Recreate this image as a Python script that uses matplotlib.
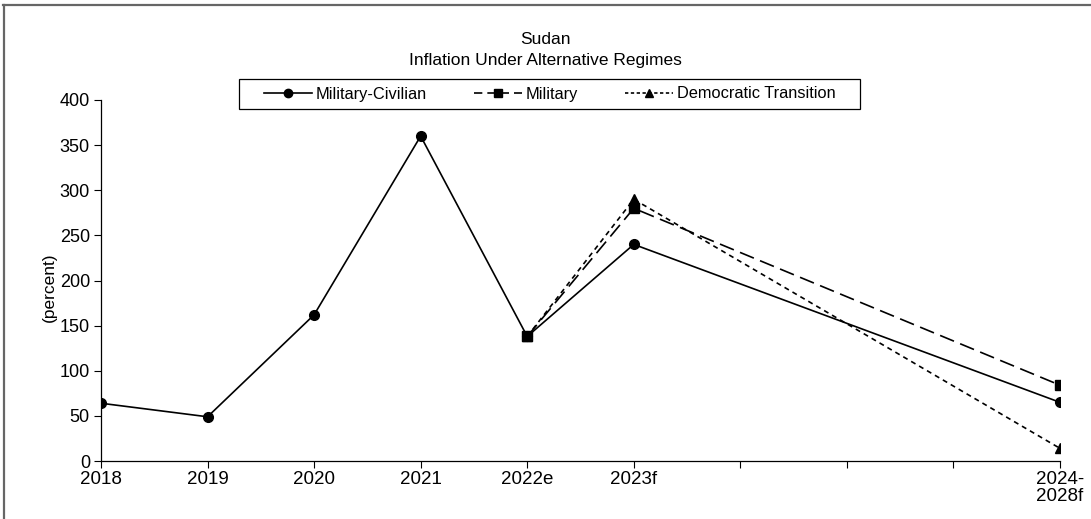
import matplotlib
matplotlib.use("Agg")
import matplotlib.pyplot as plt
import numpy as np
from matplotlib.lines import Line2D
from matplotlib.patches import Rectangle

plt.rcParams['font.family'] = ['Liberation Sans', 'DejaVu Sans']

categories = ["2018", "2019", "2020", "2021", "2022e", "2023f", "", "", "", "2024-\n2028f"]
military_civilian = [64, 49, 162, 360, 138, 240, None, None, None, 65]
military = [None, None, None, None, 138, 280, None, None, None, 84]
democratic = [None, None, None, None, 138, 290, None, None, None, 14]

W, H = 1091, 519
fig = plt.figure(figsize=(W / 100, H / 100), dpi=100)
ax = fig.add_axes([101 / W, 1 - 461 / H, (1060 - 101) / W, (461 - 100) / H])

x = np.arange(len(categories))


def series(vals):
    pts = [(xi, v) for xi, v in zip(x, vals) if v is not None]
    return [p[0] for p in pts], [p[1] for p in pts]


xs, ys = series(democratic)
ax.plot(xs, ys, color="black", lw=1.2, ls=(0, (3, 2.5)), marker="^", ms=7,
        label="Democratic Transition", zorder=3)
xs, ys = series(military_civilian)
ax.plot(xs, ys, color="black", lw=1.2, ls="-", marker="o", ms=7,
        label="Military-Civilian", zorder=4)
xs, ys = series(military)
ax.plot(xs, ys, color="black", lw=1.2, ls=(0, (9, 4)), marker="s", ms=6.5,
        label="Military", zorder=5)

ax.set_xlim(0, len(categories) - 1)
ax.set_ylim(0, 400)
ax.set_yticks(range(0, 401, 50))
ax.set_xticks(x)
ax.set_xticklabels(categories, fontsize=13.5, linespacing=1.0)
ax.tick_params(axis="y", labelsize=13, direction="out", length=5, width=0.8, pad=3)
ax.tick_params(axis="x", direction="out", length=5, width=0.8, pad=2)
for sp in ["top", "right"]:
    ax.spines[sp].set_visible(False)
for sp in ["left", "bottom"]:
    ax.spines[sp].set_linewidth(0.9)
ax.set_ylabel("(percent)", fontsize=12.5)
ax.yaxis.set_label_coords(-0.046, 0.48)

fig.text(545 / W, 1 - 40 / H, "Sudan", ha="center", va="center", fontsize=12.5)
fig.text(545 / W, 1 - 61 / H, "Inflation Under Alternative Regimes",
         ha="center", va="center", fontsize=12.5)

# legend frame
fig.add_artist(Rectangle((239 / W, 1 - 109 / H), (860 - 239) / W, 30 / H,
                         transform=fig.transFigure, facecolor="white",
                         edgecolor="black", lw=0.9, zorder=5))
handles = [
    Line2D([], [], color="black", lw=1.2, ls="-", marker="o", ms=6),
    Line2D([], [], color="black", lw=1.2, ls=(0, (5, 3)), marker="s", ms=6),
    Line2D([], [], color="black", lw=1.2, ls=(0, (2, 1.5)), marker="^", ms=6),
]
labels = ["Military-Civilian", "Military", "Democratic Transition"]
leg = fig.legend(handles, labels, loc="center", ncol=3,
                 bbox_to_anchor=(550 / W, 1 - 94 / H), fontsize=11.75,
                 frameon=False, handlelength=2.9,
                 handletextpad=0.25, columnspacing=2.9, borderpad=0.3)
leg.set_zorder(6)

# outer frame edges
fig.add_artist(Line2D([3.5 / W, 3.5 / W], [0, 1 - 5 / H], color="#666666",
                      lw=1.6, transform=fig.transFigure))
fig.add_artist(Line2D([3 / W, 1], [1 - 5 / H, 1 - 5 / H], color="#666666",
                      lw=1.6, transform=fig.transFigure))

fig.savefig("out.png", dpi=100)
